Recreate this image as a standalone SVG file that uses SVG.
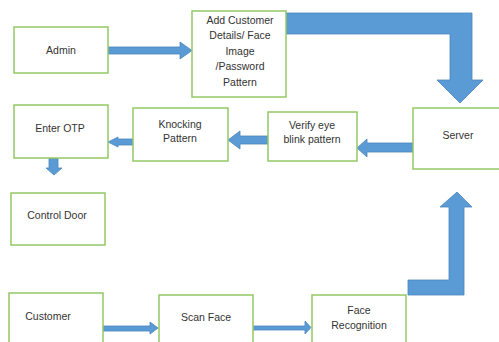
<svg xmlns="http://www.w3.org/2000/svg" width="499" height="342" viewBox="0 0 499 342">
<style>
.box{fill:#fff;stroke:#94c965;stroke-width:1.5}
.arr{fill:#5b9bd5;stroke:#4a86bd;stroke-width:0.8}
text{font-family:"Liberation Sans",Arial,sans-serif;font-size:10.5px;fill:#333;text-anchor:middle}
</style>
<rect width="499" height="342" fill="#fff"/>
<g id="connectors">
<path class="arr" d="M108,47 H180 V42 L192,50.5 L180,59 V54 H108 Z"/>
<path class="arr" d="M286,13 H472 V80 H483 L460,103 L437,80 H450 V34 H286 Z"/>
<path class="arr" d="M413,143 H367 V139 L357,148 L367,157 V152 H413 Z"/>
<path class="arr" d="M268,136 H240 V131 L228,140 L240,149 V144 H268 Z"/>
<path class="arr" d="M133,139 H118 V137 L108,142 L118,147 V145 H133 Z"/>
<path class="arr" d="M49,158 H58 V168 H62 L54,175 L46,168 H49 Z"/>
<path class="arr" d="M103,326 H150 V322 L158,328 L150,334 V331 H103 Z"/>
<path class="arr" d="M253,326 H305 V321 L311,327.5 L305,334 V330 H253 Z"/>
<path class="arr" d="M408,295 H464 V207 H472 L457,192 L440,207 H449 V280 H408 Z"/>
</g>
<g id="admin"><rect class="box" x="14" y="27" width="94" height="46"/><text x="61" y="54">Admin</text></g>
<g id="add-customer"><rect class="box" x="192" y="11" width="94" height="86"/>
<text x="240" y="24">Add Customer</text><text x="240" y="39">Details/ Face</text><text x="240" y="55">Image</text><text x="240" y="70">/Password</text><text x="240" y="86">Pattern</text></g>
<g id="server"><rect class="box" x="413" y="108" width="90" height="61"/><text x="458" y="139">Server</text></g>
<g id="verify"><rect class="box" x="268" y="112" width="89" height="49"/><text x="312" y="129">Verify eye</text><text x="312" y="143">blink pattern</text></g>
<g id="knocking"><rect class="box" x="133" y="108" width="95" height="53"/><text x="180" y="128">Knocking</text><text x="180" y="142">Pattern</text></g>
<g id="enter-otp"><rect class="box" x="14" y="105" width="94" height="53"/><text x="60" y="132">Enter OTP</text></g>
<g id="control-door"><rect class="box" x="11" y="193" width="94" height="52"/><text x="57" y="219">Control Door</text></g>
<g id="customer"><rect class="box" x="9" y="293" width="94" height="55"/><text x="48" y="320">Customer</text></g>
<g id="scan-face"><rect class="box" x="159" y="295" width="94" height="53"/><text x="206" y="321">Scan Face</text></g>
<g id="face-recognition"><rect class="box" x="312" y="295" width="94" height="53"/><text x="359" y="314">Face</text><text x="359" y="329">Recognition</text></g>
</svg>
